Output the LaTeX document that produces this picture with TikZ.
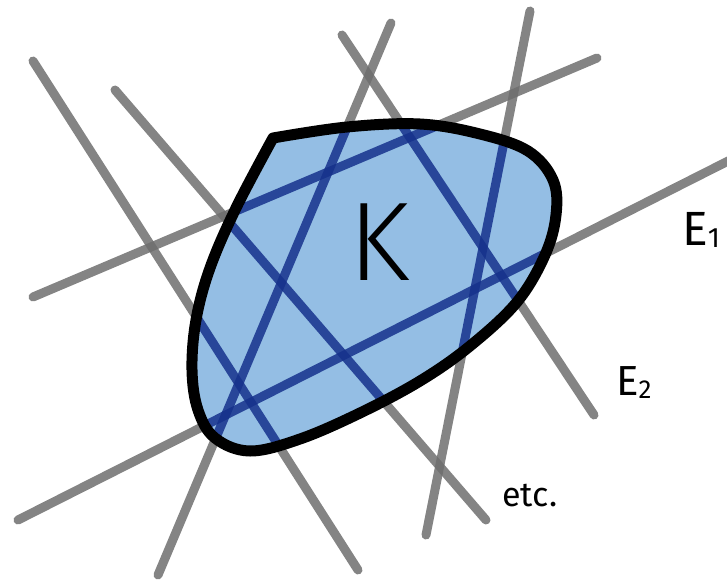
\documentclass[tikz,border=0pt]{standalone}
\usepackage{fontspec}
\setmainfont{Fira Sans Light}
\newfontfamily\lblfont{Fira Sans}
\definecolor{lgray}{RGB}{110,110,110}
\definecolor{navy}{RGB}{22,50,140}
\definecolor{kblue}{RGB}{148,190,228}
\begin{document}
\begin{tikzpicture}[x=1pt,y=-1pt,
  gline/.style={line width=9pt, line cap=round, draw=lgray, draw opacity=0.85},
  bline/.style={line width=9pt, line cap=round, draw=navy, draw opacity=0.85},
  outline/.style={line width=11pt, line join=round, draw=black},
  lbl/.style={inner sep=0pt, anchor=base west, text=black}]
\useasboundingbox (0,0) rectangle (727,586);
\coordinate (A1) at (33,61);   \coordinate (A2) at (358,570);
\coordinate (B1) at (115,90);  \coordinate (B2) at (486,520);
\coordinate (C1) at (33,297);  \coordinate (C2) at (597,58);
\coordinate (D1) at (342,35);  \coordinate (D2) at (594,415);
\coordinate (E1) at (391,23);  \coordinate (E2) at (158,575);
\coordinate (F1) at (530,11);  \coordinate (F2) at (426,535);
\coordinate (G1) at (18,520);  \coordinate (G2) at (740,155);
\foreach \p in {A,B,C,D,E,F,G} \draw[gline] (\p1) -- (\p2);
\fill[kblue] plot[smooth,tension=0.6] coordinates {(273,138) (347,127) (420,124) (480,134) (528,151) (553,180) (556,215) (545,255) (517,302) (470,346) (420,381) (360,413) (300,439) (250,451) (215,438) (198,410) (192,370) (196,320) (210,268) (236,208) (273,138)} -- cycle;
\begin{scope}
\clip plot[smooth,tension=0.6] coordinates {(273,138) (347,127) (420,124) (480,134) (528,151) (553,180) (556,215) (545,255) (517,302) (470,346) (420,381) (360,413) (300,439) (250,451) (215,438) (198,410) (192,370) (196,320) (210,268) (236,208) (273,138)} -- cycle;
\foreach \p in {A,B,C,D,E,F,G} \draw[bline] (\p1) -- (\p2);
\end{scope}
\draw[outline] plot[smooth,tension=0.6] coordinates {(273,138) (347,127) (420,124) (480,134) (528,151) (553,180) (556,215) (545,255) (517,302) (470,346) (420,381) (360,413) (300,439) (250,451) (215,438) (198,410) (192,370) (196,320) (210,268) (236,208) (273,138)} -- cycle;
\node[lbl] (K) at (348,280) {\fontsize{112}{112}\selectfont K};
\node[lbl] (Eone) at (682,245) {\lblfont\fontsize{48}{48}\selectfont E\raisebox{-2pt}{\fontsize{28}{28}\selectfont 1}};
\node[lbl] (Etwo) at (616,395) {\lblfont\fontsize{42}{42}\selectfont E\raisebox{-3pt}{\fontsize{26}{26}\selectfont 2}};
\node[lbl] (etc) at (502,506) {\lblfont\fontsize{34}{34}\selectfont etc.};
\end{tikzpicture}
\end{document}
